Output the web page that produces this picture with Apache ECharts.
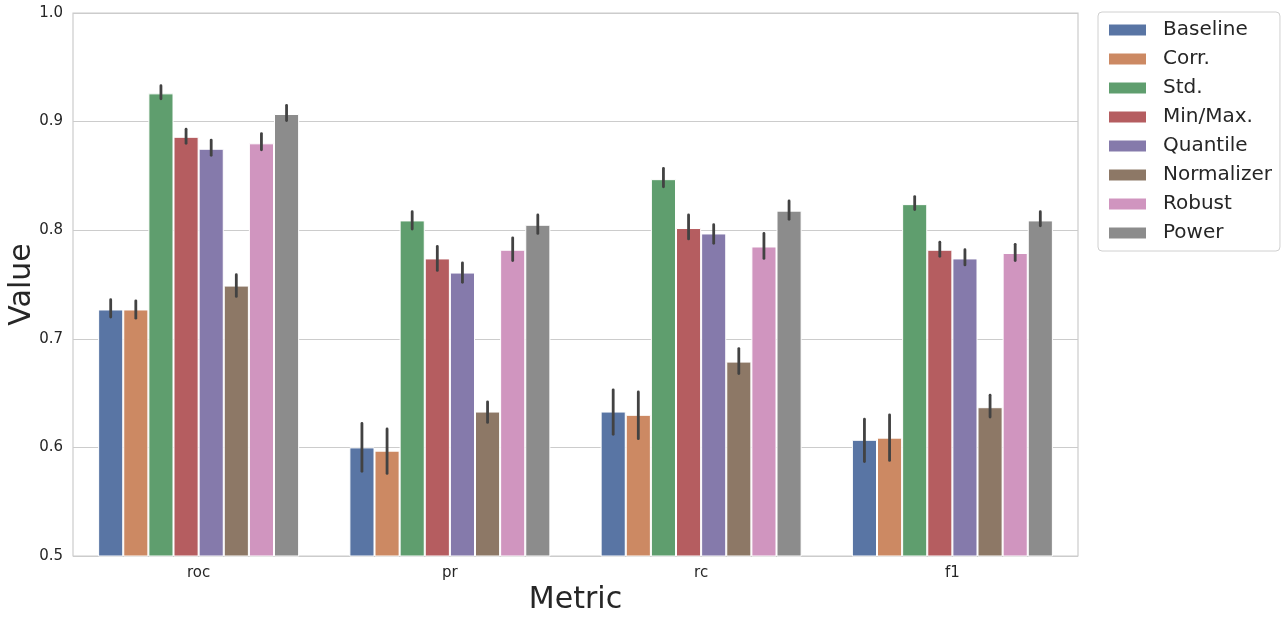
<!DOCTYPE html>
<html>
<head>
<meta charset="utf-8">
<script src="https://cdn.jsdelivr.net/npm/echarts@6/dist/echarts.min.js"></script>
<style>html,body{margin:0;padding:0;background:#fff;}#c{width:1286px;height:621px;}</style>
</head>
<body>
<div id="c"></div>
<script>
const categories = ['roc', 'pr', 'rc', 'f1'];
const seriesNames = ['Baseline', 'Corr.', 'Std.', 'Min/Max.', 'Quantile', 'Normalizer', 'Robust', 'Power'];
const colors = ['#5975A4', '#CC8963', '#5F9E6E', '#B55D60', '#857AAB', '#8D7866', '#D095BF', '#8C8C8C'];
const yTicks = [0.5, 0.6, 0.7, 0.8, 0.9, 1.0];

const baseline   = [0.727, 0.600, 0.633, 0.607];
const corr       = [0.727, 0.597, 0.630, 0.609];
const std        = [0.926, 0.809, 0.847, 0.824];
const minmax     = [0.886, 0.774, 0.802, 0.782];
const quantile   = [0.875, 0.761, 0.797, 0.774];
const normalizer = [0.749, 0.633, 0.679, 0.637];
const robust     = [0.880, 0.782, 0.785, 0.779];
const power      = [0.907, 0.805, 0.818, 0.809];

const baselineLo   = [0.720, 0.578, 0.612, 0.587];
const baselineHi   = [0.736, 0.622, 0.653, 0.626];
const corrLo       = [0.719, 0.576, 0.608, 0.588];
const corrHi       = [0.735, 0.617, 0.651, 0.630];
const stdLo        = [0.921, 0.801, 0.840, 0.819];
const stdHi        = [0.933, 0.817, 0.857, 0.831];
const minmaxLo     = [0.880, 0.763, 0.792, 0.776];
const minmaxHi     = [0.893, 0.785, 0.814, 0.789];
const quantileLo   = [0.869, 0.752, 0.788, 0.768];
const quantileHi   = [0.883, 0.770, 0.805, 0.782];
const normalizerLo = [0.739, 0.623, 0.668, 0.628];
const normalizerHi = [0.759, 0.642, 0.691, 0.648];
const robustLo     = [0.874, 0.772, 0.774, 0.772];
const robustHi     = [0.889, 0.793, 0.797, 0.787];
const powerLo      = [0.901, 0.797, 0.810, 0.804];
const powerHi      = [0.915, 0.814, 0.827, 0.817];

const means = [baseline, corr, std, minmax, quantile, normalizer, robust, power];
const lows  = [baselineLo, corrLo, stdLo, minmaxLo, quantileLo, normalizerLo, robustLo, powerLo];
const highs = [baselineHi, corrHi, stdHi, minmaxHi, quantileHi, normalizerHi, robustHi, powerHi];

const FONT = 'DejaVu Sans';
const nS = seriesNames.length;
const catFrac = 0.8;

const errData = [];
for (let s = 0; s < nS; s++) {
  for (let c = 0; c < categories.length; c++) {
    errData.push([c, lows[s][c], highs[s][c], s]);
  }
}

const series = seriesNames.map((name, i) => ({
  name: name,
  type: 'bar',
  data: means[i],
  barGap: '0%',
  barCategoryGap: '20%',
  itemStyle: { color: colors[i], borderColor: '#ffffff', borderWidth: 1 },
  emphasis: { disabled: true }
}));

series.push({
  name: 'errorbars',
  type: 'custom',
  data: errData,
  encode: { x: 0, y: [1, 2] },
  z: 10,
  silent: true,
  renderItem: function (params, api) {
    const c = api.value(0);
    const s = api.value(3);
    const band = api.size([1, 0])[0];
    const bw = band * catFrac / nS;
    const p1 = api.coord([c, api.value(1)]);
    const p2 = api.coord([c, api.value(2)]);
    const x = p1[0] + (s - (nS - 1) / 2) * bw;
    return {
      type: 'line',
      shape: { x1: x, y1: p1[1], x2: x, y2: p2[1] },
      style: { stroke: '#424242', lineWidth: 2.8, lineCap: 'round' }
    };
  }
});

const chart = echarts.init(document.getElementById('c'), null, { renderer: 'canvas' });
chart.setOption({
  animation: false,
  backgroundColor: '#ffffff',
  textStyle: { fontFamily: FONT },
  grid: {
    left: 73, right: 208, top: 13, bottom: 65,
    show: true, borderColor: '#cccccc', borderWidth: 1.2, containLabel: false,
    outerBoundsMode: 'none'
  },
  legend: {
    data: seriesNames,
    orient: 'vertical',
    left: 1098, top: 12,
    itemWidth: 39, itemHeight: 13, itemGap: 9,
    icon: 'rect',
    padding: [8, 8, 8, 9],
    borderColor: '#d0d0d0', borderWidth: 1, borderRadius: 4,
    backgroundColor: '#ffffff',
    textStyle: { fontFamily: FONT, fontSize: 20, color: '#262626', lineHeight: 20, padding: [0, 0, 0, 11] },
    selectedMode: false
  },
  xAxis: {
    type: 'category',
    data: categories,
    name: 'Metric',
    nameLocation: 'middle',
    nameGap: 29,
    nameMoveOverlap: false,
    nameTextStyle: { fontFamily: FONT, fontSize: 30, color: '#262626' },
    axisLine: { show: false },
    axisTick: { show: false },
    axisLabel: { fontFamily: FONT, fontSize: 15, color: '#262626', margin: 10 },
    splitLine: { show: false }
  },
  yAxis: {
    type: 'value',
    min: 0.5, max: 1.0, interval: 0.1,
    name: 'Value',
    nameLocation: 'middle',
    nameGap: 36,
    nameMoveOverlap: false,
    nameRotate: 90,
    nameTextStyle: { fontFamily: FONT, fontSize: 30, color: '#262626' },
    axisLine: { show: false },
    axisTick: { show: false },
    axisLabel: {
      fontFamily: FONT, fontSize: 15, color: '#262626', margin: 10,
      formatter: function (v) {
        const t = yTicks.find(t => Math.abs(t - v) < 1e-9);
        return (t !== undefined ? t : v).toFixed(1);
      }
    },
    splitLine: { show: true, lineStyle: { color: '#cccccc', width: 1.2 } }
  },
  series: series
});
</script>
</body>
</html>
